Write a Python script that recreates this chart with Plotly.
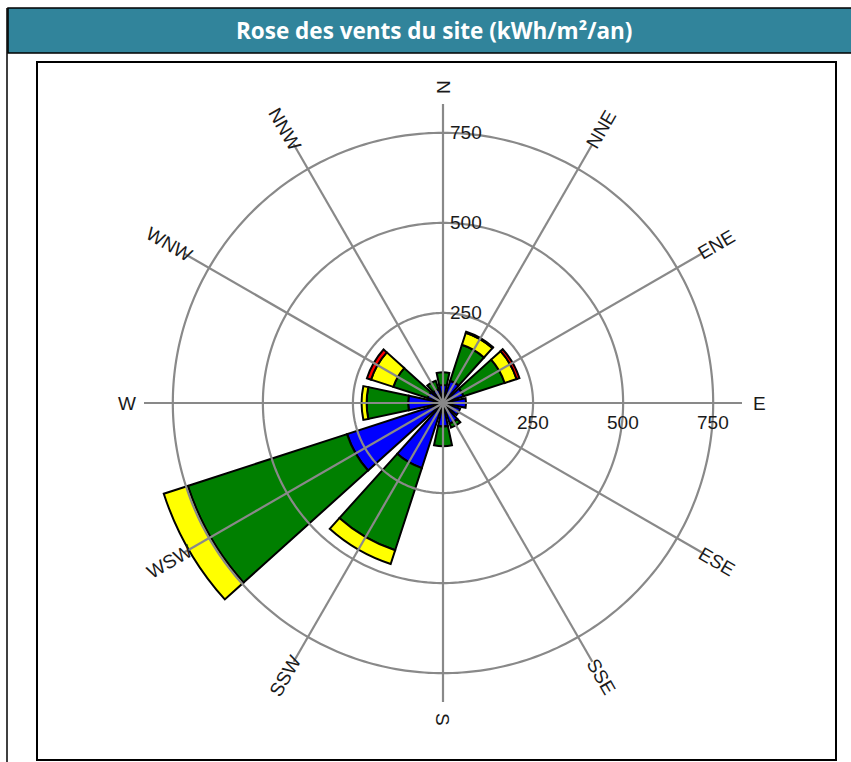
import numpy as np
import plotly.graph_objects as go

# ---------------- data ----------------
directions = ["N", "NNE", "ENE", "E", "ESE", "SSE", "S", "SSW", "WSW", "W", "WNW", "NNW"]
theta_deg = [0, 30, 60, 90, 120, 150, 180, 210, 240, 270, 300, 330]

blue   = [50, 65, 60, 64, 50, 60, 65, 190, 280, 97, 45, 40]
green  = [35, 105, 120, 0, 0, 12, 55, 240, 465, 115, 100, 25]
yellow = [0, 35, 35, 0, 0, 0, 0, 40, 70, 14, 65, 0]
red    = [0, 3, 8, 0, 0, 0, 0, 0, 0, 0, 12, 0]

radial_ticks = [250, 500, 750]
r_max = 830
title_text = "Rose des vents du site (kWh/m²/an)"

# ---------------- geometry (pixels) ----------------
W, H = 851, 762
cx, cy = 443, 403
R_px = 299                      # pixel radius of r_max
scale = R_px / r_max
label_r_px = 316


def px(x):
    return x / W


def py(y):
    return (H - y) / H


fig = go.Figure()

layers = [("blue", blue, "#0000FF"), ("green", green, "#007F00"),
          ("yellow", yellow, "#FFFF00"), ("red", red, "#FF0000")]
for name, vals, col in layers:
    fig.add_trace(go.Barpolar(
        r=vals, theta=theta_deg, width=24, name=name,
        marker=dict(color=col, line=dict(color="black", width=2)),
        showlegend=False, hoverinfo="skip"))

grid_col = "#898989"
circ_theta = np.arange(0, 361, 1)
for v in radial_ticks:
    fig.add_trace(go.Scatterpolar(
        r=[v] * len(circ_theta), theta=circ_theta, mode="lines",
        line=dict(color=grid_col, width=2.2), showlegend=False, hoverinfo="skip"))
for t in theta_deg:
    fig.add_trace(go.Scatterpolar(
        r=[0, r_max], theta=[t, t], mode="lines",
        line=dict(color=grid_col, width=2.2), showlegend=False, hoverinfo="skip"))

fig.update_layout(
    width=W, height=H,
    margin=dict(l=0, r=0, t=0, b=0),
    paper_bgcolor="white",
    polar=dict(
        domain=dict(x=[px(cx - R_px), px(cx + R_px)], y=[py(cy + R_px), py(cy - R_px)]),
        bgcolor="rgba(0,0,0,0)",
        barmode="stack",
        angularaxis=dict(rotation=90, direction="clockwise", showgrid=False,
                         showticklabels=False, showline=False, ticks=""),
        radialaxis=dict(range=[0, r_max], showgrid=False, showticklabels=False,
                        showline=False, ticks=""),
    ),
)

annotations = []
font_lbl = dict(family="Liberation Sans, Arial, sans-serif", size=19, color="#1a1a1a")
# angular labels, rotated along the radius
for name, t in zip(directions, theta_deg):
    a = 90 - t
    ang = -a
    while ang > 90:
        ang -= 180
    while ang < -90:
        ang += 180
    x = cx + label_r_px * np.cos(np.radians(a))
    y = cy - label_r_px * np.sin(np.radians(a))
    annotations.append(dict(x=px(x), y=py(y), xref="paper", yref="paper", text=name,
                            showarrow=False, textangle=ang, font=font_lbl,
                            xanchor="center", yanchor="middle"))
# radial labels on the north axis and the east axis
for v in radial_ticks:
    annotations.append(dict(x=px(cx + 5), y=py(cy - v * scale), xref="paper", yref="paper",
                            text=str(v), showarrow=False, font=font_lbl,
                            xanchor="left", yanchor="middle"))
    annotations.append(dict(x=px(cx + v * scale), y=py(cy + 7), xref="paper", yref="paper",
                            text=str(v), showarrow=False, font=font_lbl,
                            xanchor="center", yanchor="top"))
# title
annotations.append(dict(x=px(435), y=py(31), xref="paper", yref="paper", text="<b>" + title_text + "</b>",
                        showarrow=False, font=dict(family="Open Sans, sans-serif", size=22.5, color="white"),
                        xanchor="center", yanchor="middle"))

shapes = [
    dict(type="rect", xref="paper", yref="paper", x0=px(8), x1=px(853), y0=py(53), y1=py(8),
         fillcolor="#31849B", line=dict(color="black", width=1.5), layer="below"),
    dict(type="line", xref="paper", yref="paper", x0=px(7), x1=px(7), y0=py(8), y1=py(765),
         line=dict(color="black", width=1.5)),
    dict(type="rect", xref="paper", yref="paper", x0=px(37), x1=px(836), y0=py(760), y1=py(62),
         line=dict(color="black", width=2), fillcolor="rgba(0,0,0,0)", layer="below"),
]
fig.update_layout(annotations=annotations, shapes=shapes)

fig.write_html("out.html", config={"displayModeBar": False, "staticPlot": True},
               post_script="document.body.style.margin='0';document.body.style.overflow='hidden';")
